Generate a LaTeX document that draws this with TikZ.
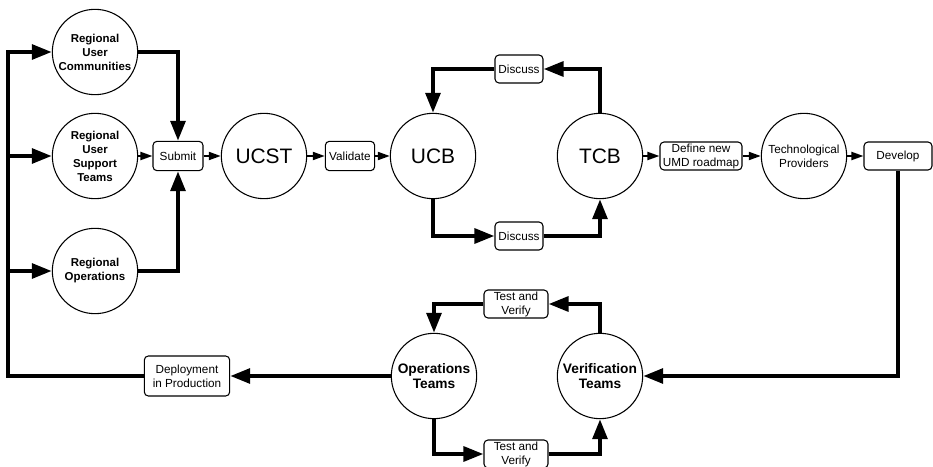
\documentclass[tikz,border=0pt]{standalone}
\usepackage{fontspec}
\setmainfont{Liberation Sans}
\usetikzlibrary{arrows.meta}

\tikzset{
  actor/.style={circle, draw, line width=0.8pt, minimum size=64pt, inner sep=0pt, align=center,
    font=\fontsize{8.6}{10.5}\selectfont\bfseries},
  bigactor/.style={actor, font=\fontsize{15.7}{18}\selectfont},
  plainactor/.style={actor, font=\fontsize{8.8}{10.5}\selectfont},
  teamactor/.style={actor, font=\fontsize{10.3}{11.7}\selectfont\bfseries},
  task/.style={draw, rounded corners=3pt, line width=0.8pt, inner sep=1pt, align=center,
    font=\fontsize{8.8}{10.5}\selectfont},
  flow/.style={line width=3pt, -{Triangle[length=15pt,width=11pt]}},
  link/.style={line width=1.5pt, -{Triangle[length=9pt,width=6pt]}},
}

\begin{document}
\begin{tikzpicture}[x=0.75pt, y=-0.75pt]
            \useasboundingbox (0,0) rectangle (933,467);

            % regional side
            \node[actor] (ruc) at (95,52) {Regional\\User\\Communities};
            \node[actor] (rust) at (95,156) {Regional\\User\\Support\\Teams};
            \node[actor] (ro) at (95,271) {Regional\\Operations};
            \node[task, minimum width=37.5pt, minimum height=22pt] (submit) at (178,156) {Submit};

            % boards
            \node[bigactor] (ucst) at (264,156) {UCST};
            \node[task, minimum width=37pt, minimum height=22pt] (validate) at (350,156) {Validate};
            \node[bigactor] (ucb) at (433,156) {UCB};
            \node[bigactor] (tcb) at (600,156) {TCB};
            \node[task, minimum width=36pt, minimum height=21pt] (discA) at (519,69) {Discuss};
            \node[task, minimum width=36pt, minimum height=21pt] (discB) at (519,236) {Discuss};

            % providers
            \node[task, minimum width=61.5pt, minimum height=21pt] (define) at (701,156) {Define new\\UMD roadmap};
            \node[plainactor] (tech) at (804,156) {Technological\\Providers};
            \node[task, minimum width=51pt, minimum height=21pt] (develop) at (898,156) {Develop};

            % teams
            \node[teamactor] (verif) at (600,376) {Verification\\Teams};
            \node[teamactor] (ops) at (434,376) {Operations\\Teams};
            \node[task, minimum width=48pt, minimum height=21pt] (testA) at (516,304) {Test and\\Verify};
            \node[task, minimum width=48pt, minimum height=21pt] (testB) at (516,454) {Test and\\Verify};
            \node[task, minimum width=64pt, minimum height=30pt] (deploy) at (187,376) {Deployment\\in Production};

            \coordinate (back) at (8,52);

            \draw[flow] (ruc.east) -| (submit.north);
            \draw[link] (rust.east) -- (submit.west);
            \draw[flow] (ro.east) -| (submit.south);
            \draw[link] (submit.east) -- (ucst.west);
            \draw[link] (ucst.east) -- (validate.west);
            \draw[link] (validate.east) -- (ucb.west);

            \draw[flow] (ucb.south) |- (discB.west);
            \draw[flow] (discB.east) -| (tcb.south);
            \draw[flow] (tcb.north) |- (discA.east);
            \draw[flow] (discA.west) -| (ucb.north);

            \draw[link] (tcb.east) -- (define.west);
            \draw[link] (define.east) -- (tech.west);
            \draw[link] (tech.east) -- (develop.west);

            \draw[flow] (develop.south) |- (verif.east);
            \draw[flow] (verif.north) |- (testA.east);
            \draw[flow] (testA.west) -| (ops.north);
            \draw[flow] (ops.south) |- (testB.west);
            \draw[flow] (testB.east) -| (verif.south);
            \draw[flow] (ops.west) -- (deploy.east);

            \draw[flow] (deploy.west) -| (back) -- (ruc.west);
            \draw[flow] (back |- rust.west) -- (rust.west);
            \draw[flow] (back |- ro.west) -- (ro.west);
        \end{tikzpicture}
\end{document}
